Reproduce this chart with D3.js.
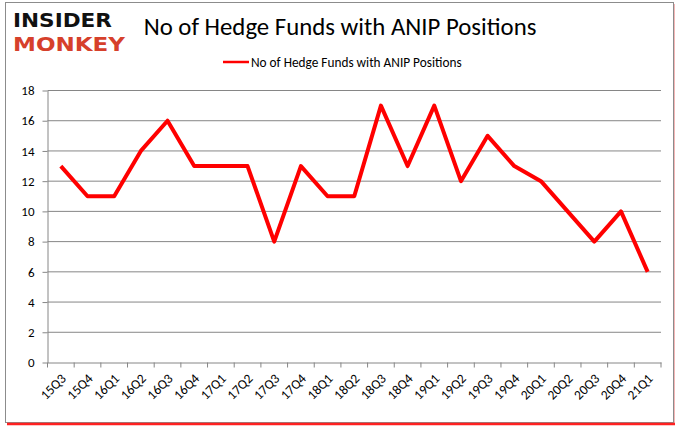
<!DOCTYPE html>
<html>
<head>
<meta charset="utf-8">
<script src="https://cdn.jsdelivr.net/npm/d3@7"></script>
<style>
body { margin: 0; background: #fff; }
svg { display: block; }
</style>
</head>
<body>
<svg width="680" height="433"></svg>
<script>
const quarters = ["15Q3","15Q4","16Q1","16Q2","16Q3","16Q4","17Q1","17Q2","17Q3","17Q4","18Q1","18Q2","18Q3","18Q4","19Q1","19Q2","19Q3","19Q4","20Q1","20Q2","20Q3","20Q4","21Q1"];
const funds = [13,11,11,14,16,13,13,13,8,13,11,11,17,13,17,12,15,13,12,10,8,10,6];
const yTicks = [0,2,4,6,8,10,12,14,16,18];
const seriesName = "No of Hedge Funds with ANIP Positions";

const svg = d3.select("svg");
const font = "Calibri, Carlito, 'Liberation Sans', Arial, sans-serif";

// frame with red shadow
svg.append("rect")
    .attr("x", 7).attr("y", 4).attr("width", 668).attr("height", 421)
    .attr("fill", "#f4b6b6");
svg.append("rect")
    .attr("x", 5.5).attr("y", 2.5).attr("width", 668).attr("height", 420)
    .attr("fill", "#fff").attr("stroke", "#8c8c8c").attr("stroke-width", 1);
svg.append("line")
    .attr("x1", 7).attr("x2", 675).attr("y1", 424).attr("y2", 424)
    .attr("stroke", "#ff2020").attr("stroke-width", 2.5);

// logo
svg.append("text")
    .attr("x", 13).attr("y", 27)
    .attr("textLength", 99).attr("lengthAdjust", "spacingAndGlyphs")
    .attr("font-family", "'DejaVu Sans', sans-serif").attr("font-weight", "bold")
    .attr("font-size", 20).attr("fill", "#111")
    .text("INSIDER");
svg.append("text")
    .attr("x", 13).attr("y", 50.5)
    .attr("textLength", 112).attr("lengthAdjust", "spacingAndGlyphs")
    .attr("font-family", "'DejaVu Sans', sans-serif").attr("font-weight", "bold")
    .attr("font-size", 20).attr("fill", "#d6402b")
    .text("MONKEY");

// title
svg.append("text")
    .attr("x", 340).attr("y", 35)
    .attr("text-anchor", "middle")
    .attr("font-family", font).attr("font-size", 24.8)
    .attr("fill", "#000")
    .text(seriesName);

// legend
svg.append("line")
    .attr("x1", 223).attr("x2", 249).attr("y1", 62).attr("y2", 62)
    .attr("stroke", "#ff0000").attr("stroke-width", 2.5);
svg.append("text")
    .attr("x", 251).attr("y", 66.5)
    .attr("font-family", font).attr("font-size", 13.3)
    .attr("fill", "#000")
    .text(seriesName);

const plotLeft = 47.5, plotRight = 661, plotTop = 90.5, plotBottom = 362.5;

const x = d3.scaleBand().domain(quarters).range([plotLeft, plotRight]);
const y = d3.scaleLinear().domain([0, 18]).range([plotBottom, plotTop]);

// gridlines
svg.append("g")
    .selectAll("line")
    .data(yTicks.filter(d => d > 0))
    .enter().append("line")
    .attr("x1", plotLeft).attr("x2", plotRight)
    .attr("y1", d => y(d)).attr("y2", d => y(d))
    .attr("stroke", "#868686").attr("stroke-width", 1);

// y axis
const yAxis = svg.append("g")
    .attr("transform", `translate(${plotLeft},0)`)
    .call(d3.axisLeft(y).tickValues(yTicks).tickSize(5).tickPadding(8).tickSizeOuter(0));
yAxis.select(".domain").attr("stroke", "#868686");
yAxis.selectAll(".tick line").attr("stroke", "#868686");
yAxis.selectAll("text")
    .attr("font-family", font).attr("font-size", 13).attr("fill", "#000");

// x axis
const xAxis = svg.append("g")
    .attr("transform", `translate(0,${plotBottom})`)
    .call(d3.axisBottom(x).tickSize(0).tickSizeOuter(0).tickFormat(""));
xAxis.select(".domain").attr("stroke", "#868686");
xAxis.selectAll(".tick").remove();
// ticks at band edges
xAxis.selectAll(".edge")
    .data(quarters.concat(["end"]))
    .enter().append("line")
    .attr("class", "edge")
    .attr("x1", (d, i) => plotLeft + i * x.step())
    .attr("x2", (d, i) => plotLeft + i * x.step())
    .attr("y1", 0).attr("y2", 5)
    .attr("stroke", "#868686");

// rotated quarter labels
svg.append("g")
    .selectAll("g")
    .data(quarters)
    .enter().append("g")
    .attr("transform", d => `translate(${x(d) + x.bandwidth() / 2 + 6},${plotBottom + 17}) rotate(-45)`)
    .append("text")
    .attr("text-anchor", "end")
    .attr("font-family", font).attr("font-size", 13.5).attr("fill", "#000")
    .text(d => d);

// line
const line = d3.line()
    .x((d, i) => x(quarters[i]) + x.bandwidth() / 2)
    .y(d => y(d));

svg.append("path")
    .datum(funds)
    .attr("d", line)
    .attr("fill", "none")
    .attr("stroke", "#ff0000")
    .attr("stroke-width", 4)
    .attr("stroke-linejoin", "round");
</script>
</body>
</html>
